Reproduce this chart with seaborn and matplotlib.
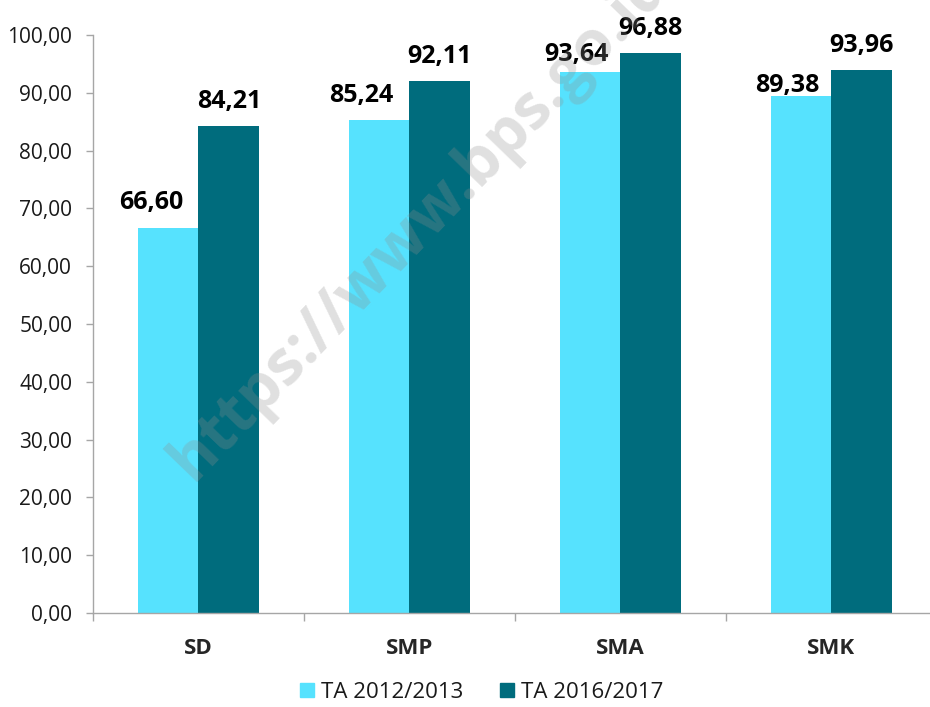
import pandas as pd
import matplotlib
matplotlib.use('Agg')
import matplotlib.pyplot as plt
import seaborn as sns
from matplotlib.lines import Line2D
from matplotlib.ticker import FuncFormatter

categories = ['SD', 'SMP', 'SMA', 'SMK']
series_names = ['TA 2012/2013', 'TA 2016/2017']
values_2012 = [66.60, 85.24, 93.64, 89.38]
values_2016 = [84.21, 92.11, 96.88, 93.96]
y_ticks = [0, 10, 20, 30, 40, 50, 60, 70, 80, 90, 100]

colors = ['#56E2FE', '#006C7D']

# label nudges (points) so the light-series labels sit like Excel put them
label_dx = [[-12, -13, -10, -10], [0, 0, 0, 0]]
label_dy = [[14, 13, 8, 3], [13, 13, 13, 13]]


def fmt_id(v, decimals=2):
    return f'{v:.{decimals}f}'.replace('.', ',')


df = pd.DataFrame({
    'kategori': categories * 2,
    'tahun': [series_names[0]] * 4 + [series_names[1]] * 4,
    'nilai': values_2012 + values_2016,
})

sns.set_theme(style='white')
plt.rcParams['font.family'] = ['Open Sans', 'DejaVu Sans']

fig = plt.figure(figsize=(9.3, 7.07), dpi=100)
ax = fig.add_axes([0.1, 0.133, 0.9, 0.8175])

sns.barplot(data=df, x='kategori', y='nilai', hue='tahun', order=categories,
            hue_order=series_names, palette=colors, width=0.575,
            saturation=1, linewidth=0, ax=ax, legend=False)

ax.set_ylim(0, 100)
ax.set_xlim(-0.5, 3.467)
ax.set_xlabel('')
ax.set_ylabel('')

ax.set_yticks(y_ticks)
ax.yaxis.set_major_formatter(FuncFormatter(lambda v, p: fmt_id(v)))
ax.tick_params(axis='y', which='major', left=True, length=5, width=1,
               color='#A6A6A6', pad=10, labelsize=15, labelcolor='#1A1A1A')

ax.set_xticks(range(len(categories)))
ax.set_xticklabels(categories, fontweight='bold', fontsize=16)
ax.set_xticks([-0.5, 0.5, 1.5, 2.5], minor=True)
ax.tick_params(axis='x', which='major', length=0, pad=18)
ax.tick_params(axis='x', which='minor', bottom=True, length=6, width=1,
               color='#A6A6A6')

for side in ['top', 'right']:
    ax.spines[side].set_visible(False)
for side in ['left', 'bottom']:
    ax.spines[side].set_color('#A6A6A6')
    ax.spines[side].set_linewidth(1)

for i, cont in enumerate(ax.containers):
    for j, bar in enumerate(cont):
        h = bar.get_height()
        ax.annotate(fmt_id(h), (bar.get_x() + bar.get_width() / 2, h),
                    xytext=(label_dx[i][j], label_dy[i][j]),
                    textcoords='offset points', ha='center', va='baseline',
                    fontsize=18, fontweight='bold', color='black')

handles = [Line2D([0], [0], marker='s', linestyle='', markersize=10.5,
                  markerfacecolor=c, markeredgecolor=c) for c in colors]
fig.legend(handles, series_names, loc='center', bbox_to_anchor=(0.517, 0.021),
           ncol=2, frameon=False, fontsize=16, handletextpad=0.2,
           columnspacing=1.6, handlelength=0.8, labelcolor='#1A1A1A')

# watermark (runs off the top edge like in the source image)
fig.text(0.452, 0.685, 'https://www.bps.go.id', rotation=46,
         ha='center', va='center', fontsize=45, fontweight='bold',
         color='#8F8F8F', alpha=0.28, zorder=10)

fig.savefig('out.png', dpi=100)
